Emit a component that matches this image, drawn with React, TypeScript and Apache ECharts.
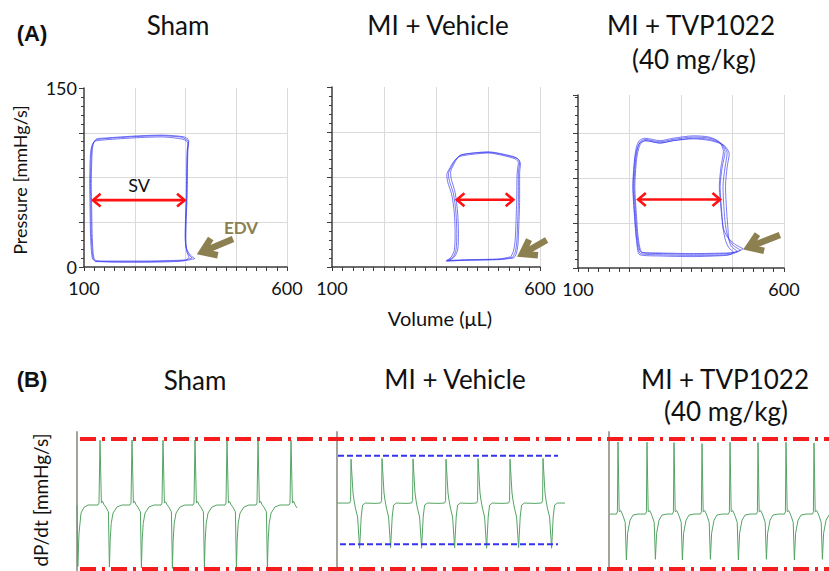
import React, { useEffect, useRef } from "react";
import * as echarts from "echarts";

// ---------- Panel A: PV loops (volume µL, pressure mmHg) ----------
const volumeTickLabels = [100, 600];
const pressureTickLabels = [0, 150];

const shamLoop1 = [[373,7],[362,10],[353,15],[350,24],[351,40],[353,60],[354,85],[355,98],[357,105],[346,108],[336,109],[290,110],[240,109.5],[190,108.5],[150,107.5],[130,106.5],[123,104],[119,99],[117,88],[116,70],[117,48],[118,28],[120,14],[123,7],[129,4.5],[180,4.5],[250,4.5],[320,5],[352,5.5],[373,7]];
const shamLoop2 = [[366,7.5],[357,11],[351,17],[349,26],[350,40],[352,60],[353,85],[354,97],[356,104],[344,107],[290,109],[240,108.5],[190,107.5],[150,106.5],[128,105.5],[121,103],[117,98],[115,88],[114,70],[115,48],[116,28],[118,14],[121,7],[128,5],[180,5],[250,5],[320,5.5],[350,6],[366,7.5]];
const shamLoop3 = [[359,8],[354,12],[351,19],[351,28],[352,42],[354,60],[355,85],[356,98],[358,106],[347,109],[290,110.5],[240,110],[190,109],[150,108],[132,107.5],[125,105],[121,100],[119,88],[118,70],[119,48],[120,28],[122,14],[125,7],[132,5],[180,4],[250,4],[320,4.5],[350,5.5],[359,8]];

const vehLoop1 = [[534,8],[540,12],[544,20],[546,34],[548,56],[548,78],[551,87],[544,91],[512,94],[476,96],[440,95],[408,93],[396,89],[388,84],[380,78],[382,72],[392,61],[398,45],[400,28],[398,14],[390,8],[374,5],[424,5.8],[504,6.4],[534,8]];
const vehLoop2 = [[530,8.5],[536,13],[540,21],[542,34],[544,56],[545,78],[548,87],[541,90],[510,93],[476,95],[440,94],[406,92],[393,88],[384,83],[376,77],[378,71],[388,60],[394,45],[396,28],[394,14],[386,8],[376,5.5],[424,6],[504,6.8],[530,8.5]];
const vehLoop3 = [[537,7.5],[543,11],[547,19],[549,34],[551,56],[551,78],[553,86],[547,90],[514,93.5],[478,95.5],[442,95],[411,93.5],[400,90],[392,85],[385,79],[387,73],[396,62],[402,45],[404,28],[402,14],[393,8],[378,5],[424,5.6],[504,6.2],[537,7.5]];

const tvpLoop1 = [[501,16],[480,20],[462,26],[453,33],[449,46],[445,68],[450,84],[457,97],[446,104],[420,108],[380,109],[331,107],[299,105],[263,107],[251,105],[245,100],[240,90],[236,68],[240,43],[245,23],[254,13],[299,12],[380,11.5],[461,12],[490,14],[501,16]];
const tvpLoop2 = [[494,15],[476,19],[465,25],[459,33],[455,46],[452,68],[457,84],[462,96],[450,103],[420,107],[380,108],[331,106],[299,104],[263,106],[250,104],[243,99],[238,90],[234,68],[238,43],[243,23],[252,12],[299,11],[380,10.5],[461,11],[485,13],[494,15]];
const tvpLoop3 = [[487,14],[472,18],[466,24],[464,33],[461,46],[458,68],[462,84],[467,95],[455,102],[422,106],[380,107.5],[331,106],[299,104],[265,106],[253,104],[247,99],[242,90],[238,68],[242,43],[247,23],[256,13],[299,12.5],[380,12],[461,12.5],[480,13],[487,14]];
const tvpLoop4 = [[478,13],[466,17],[458,23],[452,33],[448,46],[443,68],[447,84],[453,97],[443,105],[418,109],[380,110],[331,108],[299,106],[262,108],[249,106],[242,101],[237,90],[233,68],[237,43],[242,23],[250,11],[299,10],[380,9.5],[461,10.5],[472,11.5],[478,13]];

// SV double arrows [from, to] and EDV arrows [tail, tip] in data units
const svArrows = [
  [[122, 56], [348, 56]],
  [[400, 56], [536, 56]],
  [[246, 57], [445, 57]],
];
const edvArrows = [
  [[467, 23.5], [386, 11.7]],
  [[616, 22.5], [552, 10]],
  [[590, 27.5], [509, 16.4]],
];

// ---------- Panel B: dP/dt traces (time ms, dP/dt mmHg/s) ----------
const shamTrace = [
  [0,-150],[4,-9600],[10,-4500],[20,-1400],[35,-500],[55,-150],
  [105,-150],[110,150],[115,9800],[122,150],[128,400],[135,-100],[145,-500],[157,-1200],[162,-9700],[166,-5500],[171,-3000],[180,-1400],[200,-450],[225,-150],
  [265,-150],[270,150],[275,9850],[282,150],[288,400],[295,-100],[305,-500],[317,-1200],[322,-9800],[326,-5500],[331,-3000],[340,-1400],[360,-450],[385,-150],
  [420,-150],[425,150],[430,9800],[437,150],[443,350],[450,-100],[460,-500],[472,-1200],[477,-9900],[481,-5500],[486,-3000],[495,-1400],[515,-450],[540,-150],
  [580,-150],[585,150],[590,9850],[597,150],[603,400],[610,-100],[620,-500],[632,-1200],[637,-9800],[641,-5500],[646,-3000],[655,-1400],[675,-450],[700,-150],
  [740,-150],[745,150],[750,9800],[757,150],[763,400],[770,-100],[780,-500],[792,-1200],[797,-9900],[801,-5500],[806,-3000],[815,-1400],[835,-450],[860,-150],
  [895,-150],[900,150],[905,9850],[912,150],[918,400],[925,-100],[935,-500],[947,-1200],[952,-9800],[956,-5500],[961,-3000],[970,-1400],[990,-450],[1015,-150],
  [1060,-150],[1065,150],[1070,9800],[1077,150],[1083,450],[1090,-100],[1100,-600],
];
const vehicleTrace = [
  [0,150],[30,150],[62,150],[68,500],[70,6900],[80,1700],[85,600],[91,-460],[103,-2000],[113,-6800],[121,-2000],[128,-150],[142,150],[190,100],
  [217,150],[223,500],[225,7000],[235,1700],[240,600],[246,-460],[258,-2000],[268,-6700],[276,-2000],[283,-150],[297,150],[345,100],
  [372,150],[378,500],[380,6950],[390,1700],[395,600],[401,-460],[413,-2000],[423,-6800],[431,-2000],[438,-150],[452,150],[505,100],
  [537,150],[543,500],[545,6900],[555,1700],[560,600],[566,-460],[578,-2000],[588,-6750],[596,-2000],[603,-150],[617,150],[665,100],
  [697,150],[703,500],[705,7000],[715,1700],[720,600],[726,-460],[738,-2000],[748,-6800],[756,-2000],[763,-150],[777,150],[825,100],
  [857,150],[863,500],[865,6900],[875,1700],[880,600],[886,-460],[898,-2000],[908,-6700],[916,-2000],[923,-150],[937,150],[990,100],
  [1022,150],[1028,500],[1030,7000],[1040,1700],[1045,600],[1051,-460],[1063,-2000],[1073,-6800],[1081,-2000],[1088,-150],[1102,150],[1140,150],
];
const tvpTrace = [
  [5,-1540],[20,-1540],
  [37,-1540],[42,-1200],[45,9540],[51,-1200],[59,-1000],[70,-1800],[81,-2800],[87,-8600],[93,-4500],[105,-2500],[120,-1700],[145,-1540],
  [182,-1540],[187,-1200],[190,9500],[196,-1200],[204,-1000],[215,-1800],[226,-2800],[232,-8500],[238,-4500],[250,-2500],[265,-1700],[290,-1540],
  [317,-1540],[322,-1200],[325,9450],[331,-1200],[339,-1000],[350,-1800],[361,-2800],[367,-8600],[373,-4500],[385,-2500],[400,-1700],[425,-1540],
  [457,-1540],[462,-1200],[465,9300],[471,-1200],[479,-1000],[490,-1800],[501,-2800],[507,-8500],[513,-4500],[525,-2500],[540,-1700],[565,-1540],
  [597,-1540],[602,-1200],[605,9500],[611,-1200],[619,-1000],[630,-1800],[641,-2800],[647,-8600],[653,-4500],[665,-2500],[680,-1700],[705,-1540],
  [737,-1540],[742,-1200],[745,9450],[751,-1200],[759,-1000],[770,-1800],[781,-2800],[787,-8500],[793,-4500],[805,-2500],[820,-1700],[845,-1540],
  [877,-1540],[882,-1200],[885,9500],[891,-1200],[899,-1000],[910,-1800],[921,-2800],[927,-8600],[933,-4500],[945,-2500],[960,-1700],[985,-1540],
  [1017,-1540],[1022,-1200],[1025,9400],[1031,-1200],[1039,-1000],[1050,-1800],[1061,-2800],[1067,-8500],[1073,-4500],[1085,-2500],[1100,-1700],
];
const vehicleBlueTop = [[5,7430],[1105,7430]];
const vehicleBlueBottom = [[15,-6200],[1105,-6200]];
const redTop = [[0,10000],[1,10000]];
const redBottom = [[0,-10000],[1,-10000]];

const FONT = "Lato, 'Open Sans', sans-serif";
const LOOP_COLOR = "#3a3af2";
const GRID_COLOR = "#dadada";
const AXIS_COLOR = "#3c3c3c";

function pvXAxes(showLabels: boolean, gridIndex: number) {
  return [
    {
      gridIndex, type: "value", position: "bottom", min: 100, max: 600, interval: 25,
      axisLine: { show: true, lineStyle: { color: AXIS_COLOR, width: 1.5 } },
      axisTick: { show: true, length: 4, lineStyle: { color: AXIS_COLOR } },
      splitLine: { show: false },
      axisLabel: {
        show: showLabels, margin: 12, fontSize: 18, fontFamily: FONT, color: "#111",
        formatter: (v: number) => (volumeTickLabels.includes(v) ? String(v) : ""),
      },
    },
    {
      gridIndex, type: "value", position: "top", min: 0, max: 4, interval: 1,
      axisLine: { show: false }, axisTick: { show: false }, axisLabel: { show: false },
      splitLine: { show: true, showMinLine: false, lineStyle: { color: GRID_COLOR, width: 1 } },
    },
  ];
}

function pvYAxis(gridIndex: number, max: number, showLabels: boolean) {
  return {
    gridIndex, type: "value", min: 0, max, interval: 37.5,
    axisLine: { show: true, lineStyle: { color: AXIS_COLOR, width: 1.5 } },
    axisTick: { show: true, length: 5, lineStyle: { color: AXIS_COLOR } },
    minorTick: { show: true, splitNumber: 5, length: 3, lineStyle: { color: AXIS_COLOR } },
    splitLine: { show: true, showMinLine: false, showMaxLine: false, lineStyle: { color: GRID_COLOR, width: 1 } },
    axisLabel: {
      show: showLabels, margin: 7, fontSize: 18, fontFamily: FONT, color: "#111",
      formatter: (v: number) => (pressureTickLabels.includes(v) ? String(v) : ""),
    },
  };
}

function traceXAxis(gridIndex: number, max: number) {
  return {
    gridIndex, type: "value", min: 0, max,
    axisLine: { show: false }, axisTick: { show: false }, axisLabel: { show: false }, splitLine: { show: false },
  };
}
function traceYAxis(gridIndex: number, showLine: boolean) {
  return {
    gridIndex, type: "value", min: -10300, max: 11080,
    axisLine: { show: showLine, lineStyle: { color: "#a4a49c", width: 2 } },
    axisTick: { show: false }, axisLabel: { show: false }, splitLine: { show: false },
  };
}

function loopSeries(data: number[][], xAxisIndex: number, yAxisIndex: number) {
  return {
    type: "line", data, xAxisIndex, yAxisIndex, symbol: "none", smooth: 0.25,
    lineStyle: { color: LOOP_COLOR, width: 0.8, opacity: 0.85 }, silent: true,
  };
}

function traceSeries(data: number[][], xAxisIndex: number, yAxisIndex: number) {
  return {
    type: "line", data, xAxisIndex, yAxisIndex, symbol: "none",
    lineStyle: { color: "#54a464", width: 1 }, silent: true,
  };
}

function text(t: string, x: number, y: number, size: number, extra: any = {}) {
  return {
    type: "text", x, y, z: 100, rotation: extra.rotation || 0,
    style: {
      text: t, fontSize: size, fontFamily: extra.fontFamily || FONT, fontWeight: extra.fontWeight || "normal",
      fill: extra.fill || "#111", align: "center", verticalAlign: "middle",
    },
  };
}

function headPoints(tip: number[], from: number[], len: number, ang: number) {
  const dx = tip[0] - from[0];
  const dy = tip[1] - from[1];
  const d = Math.hypot(dx, dy) || 1;
  const ux = dx / d, uy = dy / d;
  const rot = (a: number) => [ux * Math.cos(a) - uy * Math.sin(a), ux * Math.sin(a) + uy * Math.cos(a)];
  const r1 = rot(ang), r2 = rot(-ang);
  return [[tip[0] - len * r1[0], tip[1] - len * r1[1]], tip, [tip[0] - len * r2[0], tip[1] - len * r2[1]]];
}

export default function App() {
  const ref = useRef<HTMLDivElement>(null);
  useEffect(() => {
    document.body.style.margin = "0";
    const chart = echarts.init(ref.current!, null, { renderer: "svg" });
    const option: any = {
      animation: false,
      backgroundColor: "#ffffff",
      grid: [
        { left: 84, top: 88, width: 203, height: 179 },
        { left: 332, top: 87, width: 208, height: 180 },
        { left: 578, top: 95, width: 206, height: 173 },
        { left: 77, top: 432, width: 260, height: 139 },
        { left: 337, top: 432, width: 272, height: 139 },
        { left: 609, top: 432, width: 220, height: 139 },
        { left: 80, top: 432, width: 749, height: 139 },
      ],
      xAxis: [
        ...pvXAxes(true, 0),
        ...pvXAxes(true, 1),
        ...pvXAxes(true, 2),
        traceXAxis(3, 1300),
        traceXAxis(4, 1360),
        traceXAxis(5, 1100),
        traceXAxis(6, 1),
      ],
      yAxis: [
        pvYAxis(0, 150, true),
        pvYAxis(1, 150, false),
        pvYAxis(2, 144, false),
        traceYAxis(3, true),
        traceYAxis(4, true),
        traceYAxis(5, true),
        traceYAxis(6, false),
      ],
      series: [
        loopSeries(shamLoop1, 0, 0),
        loopSeries(shamLoop2, 0, 0),
        loopSeries(shamLoop3, 0, 0),
        loopSeries(vehLoop1, 2, 1),
        loopSeries(vehLoop2, 2, 1),
        loopSeries(vehLoop3, 2, 1),
        loopSeries(tvpLoop1, 4, 2),
        loopSeries(tvpLoop2, 4, 2),
        loopSeries(tvpLoop3, 4, 2),
        loopSeries(tvpLoop4, 4, 2),
        traceSeries(shamTrace, 6, 3),
        traceSeries(vehicleTrace, 7, 4),
        traceSeries(tvpTrace, 8, 5),
        {
          type: "line", data: vehicleBlueTop, xAxisIndex: 7, yAxisIndex: 4, symbol: "none", silent: true,
          lineStyle: { color: "#3434f0", width: 2, type: [6, 3] },
        },
        {
          type: "line", data: vehicleBlueBottom, xAxisIndex: 7, yAxisIndex: 4, symbol: "none", silent: true,
          lineStyle: { color: "#3434f0", width: 2, type: [6, 3] },
        },
        {
          type: "line", data: redTop, xAxisIndex: 9, yAxisIndex: 6, symbol: "none", silent: true, z: 5,
          lineStyle: { color: "#f41c1c", width: 4, type: [16, 6, 3, 6], cap: "butt" },
        },
        {
          type: "line", data: redBottom, xAxisIndex: 9, yAxisIndex: 6, symbol: "none", silent: true, z: 5,
          lineStyle: { color: "#f41c1c", width: 4, type: [16, 6, 3, 6], cap: "butt" },
        },
      ],
    };
    chart.setOption(option);

    const axisPairs = [[0, 0], [2, 1], [4, 2]];
    const graphics: any[] = [];
    axisPairs.forEach(([xi, yi], i) => {
      const a = chart.convertToPixel({ xAxisIndex: xi, yAxisIndex: yi } as any, svArrows[i][0]) as number[];
      const b = chart.convertToPixel({ xAxisIndex: xi, yAxisIndex: yi } as any, svArrows[i][1]) as number[];
      graphics.push({ type: "line", z: 100, shape: { x1: a[0] + 1, y1: a[1], x2: b[0] - 1, y2: b[1] }, style: { stroke: "#ff1111", lineWidth: 2.6 } });
      graphics.push({ type: "polyline", z: 100, shape: { points: headPoints(a, b, 10, 0.7) }, style: { stroke: "#ff1111", lineWidth: 2.6, fill: null, lineJoin: "miter" } });
      graphics.push({ type: "polyline", z: 100, shape: { points: headPoints(b, a, 10, 0.7) }, style: { stroke: "#ff1111", lineWidth: 2.6, fill: null, lineJoin: "miter" } });
      const t = chart.convertToPixel({ xAxisIndex: xi, yAxisIndex: yi } as any, edvArrows[i][0]) as number[];
      const p = chart.convertToPixel({ xAxisIndex: xi, yAxisIndex: yi } as any, edvArrows[i][1]) as number[];
      graphics.push({ type: "line", z: 100, shape: { x1: t[0], y1: t[1], x2: p[0] + 3, y2: p[1] - 1.5 }, style: { stroke: "#8c7f50", lineWidth: 6.5 } });
      graphics.push({ type: "polyline", z: 100, shape: { points: headPoints([p[0] + 2, p[1] - 1], t, 16, 0.6) }, style: { stroke: "#8c7f50", lineWidth: 6.5, fill: null, lineJoin: "miter" } });
    });

    graphics.push(
      text("(A)", 32, 33, 22, { fontFamily: "'Liberation Sans', Arial, sans-serif", fontWeight: "bold" }),
      text("Sham", 178, 25, 26),
      text("MI + Vehicle", 438, 25, 26),
      text("MI + TVP1022", 691, 25, 26),
      text("(40 mg/kg)", 694, 59, 26),
      text("SV", 139, 185, 18),
      text("EDV", 241, 227, 17, { fontWeight: "bold", fill: "#8c7f50" }),
      text("Volume (\u03bcL)", 440, 318, 20),
      text("Pressure [mmHg/s]", 20, 180, 18, { rotation: Math.PI / 2 }),
      text("(B)", 32, 379, 22, { fontFamily: "'Liberation Sans', Arial, sans-serif", fontWeight: "bold" }),
      text("Sham", 195, 380, 26),
      text("MI + Vehicle", 455, 379, 26),
      text("MI + TVP1022", 725, 379, 26),
      text("(40 mg/kg)", 726, 411, 26),
      text("dP/dt [mmHg/s]", 40, 500, 19, { rotation: Math.PI / 2 }),
    );
    chart.setOption({ graphic: { elements: graphics } });

    return () => chart.dispose();
  }, []);
  return <div ref={ref} style={{ width: 829, height: 571 }} />;
}
